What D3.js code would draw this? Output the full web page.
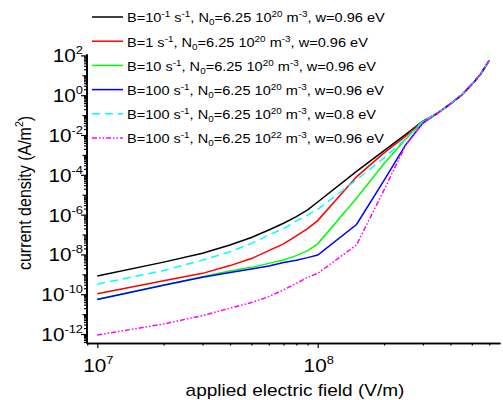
<!DOCTYPE html>
<html>
<head>
<meta charset="utf-8">
<script src="https://cdn.jsdelivr.net/npm/d3@7"></script>
<style>
  html, body { margin: 0; padding: 0; background: #ffffff; }
  svg { display: block; }
  text { font-family: "Liberation Sans", Arial, Helvetica, sans-serif; fill: #000; }
</style>
</head>
<body>
<script>
// Applied electric field (V/m) at which current density was computed
const fieldVm = [1e7, 2e7, 3e7, 4e7, 5e7, 6e7, 7e7, 8e7, 9e7, 1e8,
                 1.5e8, 2e8, 2.5e8, 3e8, 3.5e8, 4e8, 4.5e8, 5e8, 5.5e8, 6e8];

// Current density (A/m^2), one array per parameter set
const jB01 = [8.3e-10, 4.1e-9, 1.15e-8, 3.0e-8, 7.1e-8, 1.7e-7, 3.7e-7, 7.9e-7, 1.74e-6, 4.3e-6,
              1.48e-4, 1.66e-3, 1.05e-2, 5.0e-2, 0.126, 0.363, 1.02, 3.4, 12.0, 56];
const jB1 = [1.05e-10, 4.8e-10, 1.12e-9, 2.75e-9, 6.2e-9, 1.55e-8, 3.4e-8, 8.5e-8, 2.0e-7, 5.0e-7,
             7.9e-5, 1.26e-3, 8.5e-3, 4.9e-2, 0.126, 0.363, 1.02, 3.4, 12.0, 56];
const jB10 = [5.6e-11, 2.95e-10, 7.6e-10, 1.48e-9, 2.24e-9, 3.55e-9, 5.2e-9, 8.7e-9, 1.55e-8, 3.4e-8,
              6.6e-6, 3.7e-4, 6.0e-3, 4.7e-2, 0.126, 0.363, 1.02, 3.4, 12.0, 56];
const jB100 = [5.4e-11, 2.8e-10, 7.1e-10, 1.23e-9, 1.86e-9, 2.6e-9, 3.9e-9, 5.1e-9, 6.9e-9, 9.3e-9,
               3.2e-7, 5.2e-5, 3.1e-3, 4.0e-2, 0.126, 0.363, 1.02, 3.4, 12.0, 56];
const jB100w08 = [3.2e-10, 1.55e-9, 5.2e-9, 1.35e-8, 3.6e-8, 9.5e-8, 2.0e-7, 4.8e-7, 9.5e-7, 1.86e-6,
                  5.6e-5, 7.1e-4, 6.3e-3, 4.8e-2, 0.126, 0.363, 1.02, 3.4, 12.0, 56];
const jB100N22 = [8.9e-13, 3.2e-12, 8.5e-12, 2.0e-11, 3.8e-11, 7.6e-11, 1.66e-10, 3.5e-10, 7.1e-10, 1.12e-9,
                  3.0e-8, 1.74e-5, 2.9e-3, 4.0e-2, 0.126, 0.363, 1.02, 3.4, 12.0, 56];

// Legend labels (^{..} superscript, _{..} subscript)
const seriesLabels = [
  "B=10^{-1} s^{-1}, N_{0}=6.25 10^{20} m^{-3}, w=0.96 eV",
  "B=1 s^{-1}, N_{0}=6.25 10^{20} m^{-3}, w=0.96 eV",
  "B=10 s^{-1}, N_{0}=6.25 10^{20} m^{-3}, w=0.96 eV",
  "B=100 s^{-1}, N_{0}=6.25 10^{20} m^{-3}, w=0.96 eV",
  "B=100 s^{-1}, N_{0}=6.25 10^{20} m^{-3}, w=0.8 eV",
  "B=100 s^{-1}, N_{0}=6.25 10^{22} m^{-3}, w=0.96 eV"
];
const seriesValues = [jB01, jB1, jB10, jB100, jB100w08, jB100N22];
const seriesColors = ["#000000", "#ff0000", "#00ff00", "#0000ff", "#00ffff", "#ff00ff"];
const seriesDashes = [null, null, null, null, "8,5", "5,2,1.5,2,1.5,2"];

// Tick exponents
const xLabelExps = [7, 8];
const yLabelExps = [-12, -10, -8, -6, -4, -2, 0, 2];

const W = 503, H = 400;
const TEXT_STRETCH = 1.12;   // glyphs are drawn slightly wide
const svg = d3.select("body").append("svg").attr("width", W).attr("height", H);

const x = d3.scaleLog().domain([Math.pow(10, 6.951), Math.pow(10, 8.827)]).range([86.5, 500]);
const y = d3.scaleLog().domain([Math.pow(10, -12.45), Math.pow(10, 2.07)]).range([343, 54]);

// text anchored at (px,py), widened horizontally
function placeText(px, py, anchor, size, rotate) {
  const g = svg.append("g")
    .attr("transform", `translate(${px},${py}) scale(${TEXT_STRETCH},1)` + (rotate ? ` rotate(${rotate})` : ""));
  return g.append("text").attr("x", 0).attr("y", 0)
    .attr("text-anchor", anchor).attr("font-size", size);
}

// tick value lists inside the domains
function decadeTicks(scale, lo, hi) {
  const [d0, d1] = scale.domain();
  const major = [], minor = [];
  for (let e = lo; e <= hi; e++) {
    const v = Math.pow(10, e);
    if (v >= d0 && v <= d1) major.push(v);
    for (let k = 2; k <= 9; k++) {
      const m = k * v;
      if (m >= d0 && m <= d1) minor.push(m);
    }
  }
  return { major, minor };
}
const xt = decadeTicks(x, 6, 9);
const yt = decadeTicks(y, -13, 3);

function styleAxis(g) {
  g.selectAll("path.domain").attr("stroke", "#000").attr("stroke-width", 1.5);
  g.selectAll(".tick line").attr("stroke", "#000").attr("stroke-width", 1.2);
  g.selectAll(".tick text").remove();
}

// x axis
svg.append("g").attr("transform", "translate(0,343)")
  .call(d3.axisBottom(x).tickValues(xt.minor).tickSize(2.5).tickSizeOuter(0).tickFormat(""))
  .call(styleAxis);
svg.append("g").attr("transform", "translate(0,343)")
  .call(d3.axisBottom(x).tickValues(xt.major).tickSize(5).tickSizeOuter(0).tickFormat(""))
  .call(styleAxis);

// y axis
svg.append("g").attr("transform", "translate(86.5,0)")
  .call(d3.axisLeft(y).tickValues(yt.minor).tickSize(2.5).tickSizeOuter(0).tickFormat(""))
  .call(styleAxis);
svg.append("g").attr("transform", "translate(86.5,0)")
  .call(d3.axisLeft(y).tickValues(yt.major.filter(v => Math.round(Math.log10(v)) % 2 !== 0)).tickSize(4).tickSizeOuter(0).tickFormat(""))
  .call(styleAxis);
svg.append("g").attr("transform", "translate(86.5,0)")
  .call(d3.axisLeft(y).tickValues(yLabelExps.map(e => Math.pow(10, e))).tickSize(5.5).tickSizeOuter(0).tickFormat(""))
  .call(styleAxis);

// power-of-ten tick labels
function powerLabel(sel, exp) {
  sel.append("tspan").text("10");
  sel.append("tspan").attr("font-size", 11.5).attr("dy", -8).text(String(exp));
}
yLabelExps.forEach(e => {
  placeText(83, y(Math.pow(10, e)) + 7, "end", 18.5).call(powerLabel, e);
});
xLabelExps.forEach(e => {
  placeText(x(Math.pow(10, e)) + 1, 371.5, "middle", 18.5).call(powerLabel, e);
});

// axis titles
placeText(295, 395.5, "middle", 17).text("applied electric field (V/m)");
const yTitle = placeText(31, 193, "middle", 16, -90);
yTitle.append("tspan").text("current density (A/m");
yTitle.append("tspan").attr("font-size", 10.5).attr("dy", -7).text("2");
yTitle.append("tspan").attr("dy", 7).text(")");

// curves
const line = d3.line().x(d => x(d[0])).y(d => y(d[1]));
seriesValues.forEach((vals, i) => {
  svg.append("path")
    .datum(fieldVm.map((f, k) => [f, vals[k]]))
    .attr("d", line)
    .attr("fill", "none")
    .attr("stroke", seriesColors[i])
    .attr("stroke-width", 1.5)
    .attr("stroke-dasharray", seriesDashes[i]);
});

// rich text with ^{} and _{} markup
function richText(sel, str, baseSize) {
  const re = /([\^_])\{([^}]*)\}/g;
  let last = 0, m, shift = 0;
  const add = (txt, size, dy) => {
    sel.append("tspan").attr("font-size", size).attr("dy", dy).text(txt);
  };
  while ((m = re.exec(str)) !== null) {
    if (m.index > last) { add(str.slice(last, m.index), baseSize, -shift); shift = 0; }
    const d = m[1] === "^" ? -5 : 3;
    add(m[2], baseSize * 0.68, d - shift);
    shift = d;
    last = re.lastIndex;
  }
  if (last < str.length) add(str.slice(last), baseSize, -shift);
}

// legend
seriesLabels.forEach((lab, i) => {
  const ry = 17 + i * 24.2;
  svg.append("line")
    .attr("x1", 92).attr("x2", 123).attr("y1", ry).attr("y2", ry)
    .attr("stroke", seriesColors[i]).attr("stroke-width", 1.5)
    .attr("stroke-dasharray", seriesDashes[i]);
  placeText(127, ry + 5.3, "start", 13).call(richText, lab, 13);
});
</script>
</body>
</html>
